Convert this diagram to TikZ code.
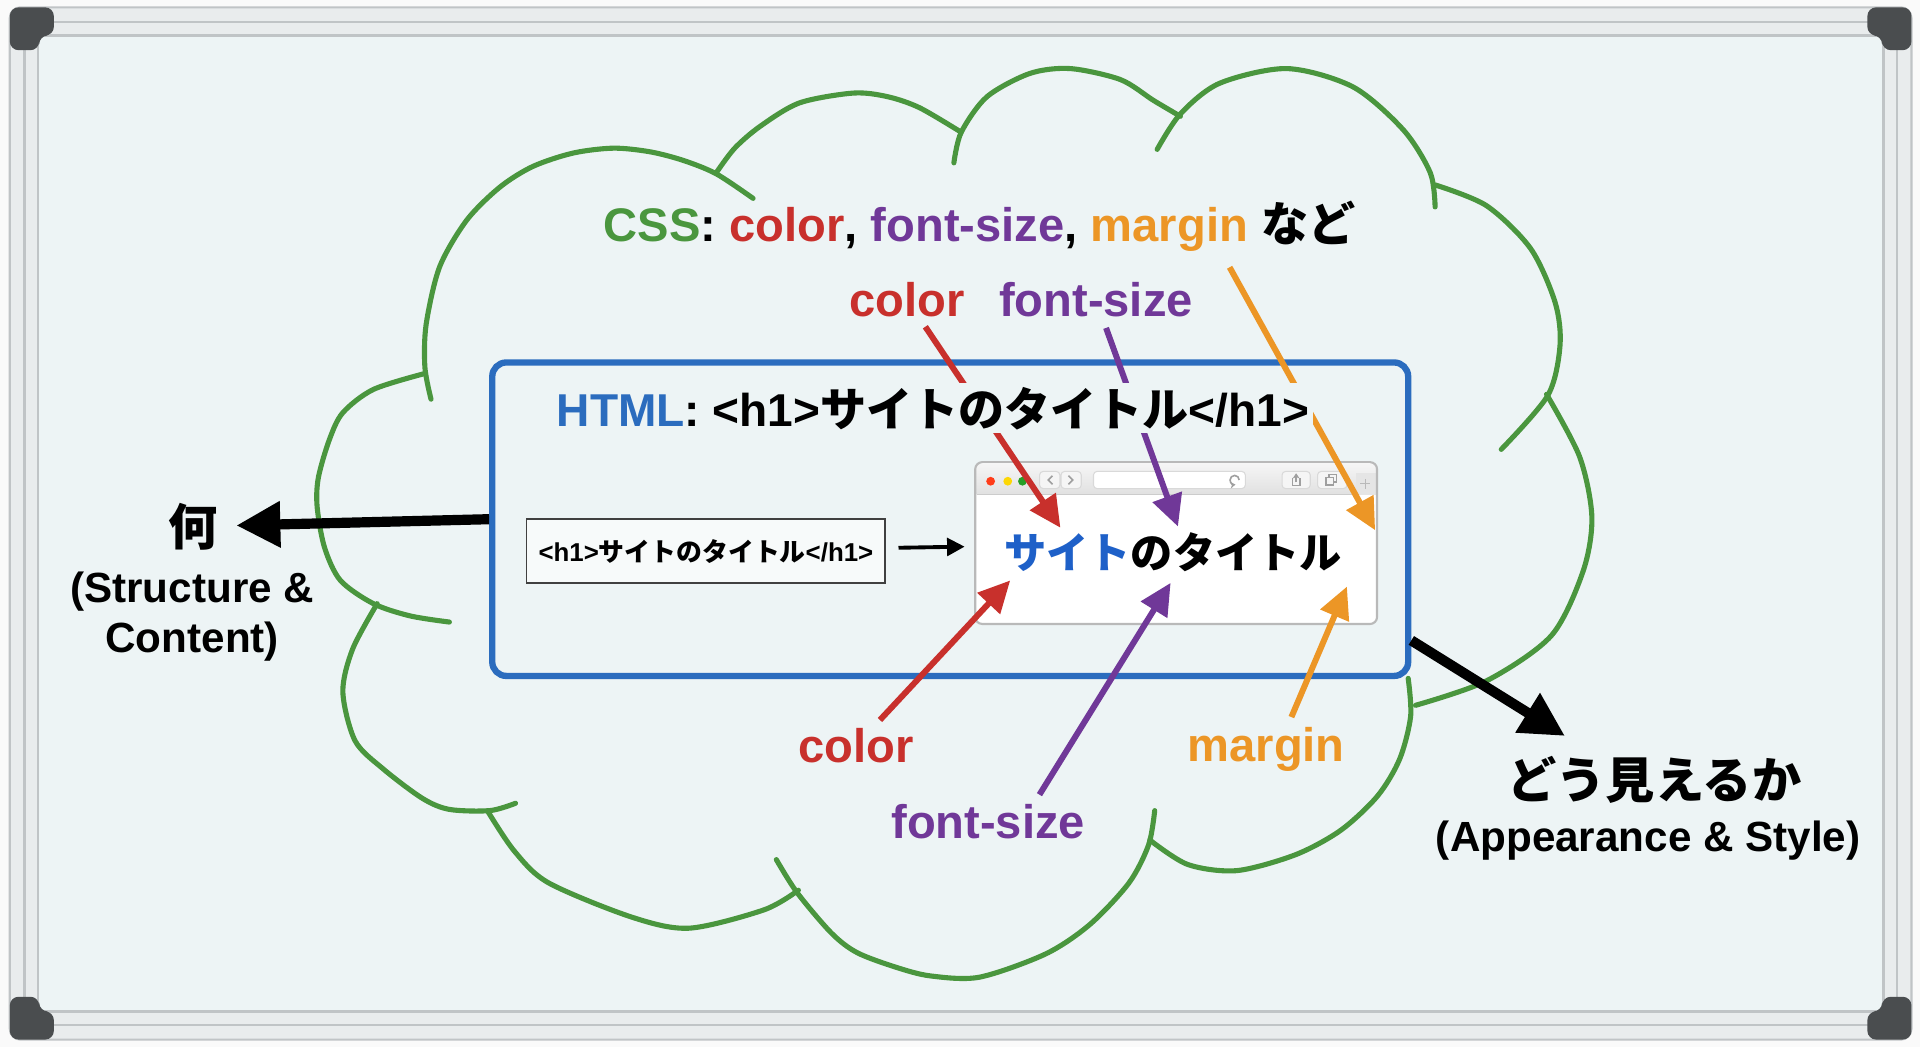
\documentclass[tikz,border=0pt]{standalone}
\usepackage{fontspec}
\setmainfont{Liberation Sans}
\newfontfamily\jp{Noto Sans CJK JP}
\usetikzlibrary{arrows.meta,calc}

\definecolor{board}{RGB}{237,244,245}
\definecolor{rim}{RGB}{233,236,237}
\definecolor{rimline}{RGB}{192,196,198}
\definecolor{capgrey}{RGB}{74,77,79}
\definecolor{cloudgreen}{RGB}{74,150,62}
\definecolor{boxblue}{RGB}{43,108,190}
\definecolor{cssred}{RGB}{200,48,44}
\definecolor{csspurple}{RGB}{112,56,152}
\definecolor{cssorange}{RGB}{236,150,38}
\definecolor{jpblue}{RGB}{30,96,200}

\newlength\spx
\setlength\spx{0.012245cm}

\begin{document}
\begin{tikzpicture}[
        x=0.012245cm, y=-0.012245cm,
        lbl/.style = {inner sep=0pt, font=\fontsize{13.4}{16}\selectfont\bfseries},
        sublbl/.style = {inner sep=0pt, font=\fontsize{12}{14}\selectfont\bfseries},
        jplbl/.style = {inner sep=0pt, font=\fontsize{14}{16}\selectfont\bfseries\jp},
        cloudline/.style = {cloudgreen, line width=1.45pt, line cap=round},
        cssarrow/.style = {line width=1.7pt, -{Triangle[length=9pt,width=8.5pt]}, shorten <=3pt},
        bigarrow/.style = {line width=2.9pt, -{Triangle[length=12.5pt,width=12.5pt]}},
        btn/.style = {fill=gray!8, draw=gray!30, line width=0.3pt, rounded corners=1pt},
        icon/.style = {gray!75, line width=0.45pt}
    ]

    % whiteboard
    \fill[gray!4] (0,0) rectangle (1568,855);
    \useasboundingbox (0,0) rectangle (1568,855);
    \filldraw[fill=rim, draw=rimline, line width=0.6pt, rounded corners=3pt] (8,6) rectangle (1561,849);
    \draw[rimline, line width=0.6pt] (20,18) rectangle (1549,837);
    \filldraw[fill=board, draw=rimline, line width=0.8pt] (31,29) rectangle (1538,826);
    \foreach \cx/\cy/\sx/\sy in {8/6/1/1, 1561/6/-1/1, 8/849/1/-1, 1561/849/-1/-1}
        \fill[capgrey, shift={(\cx,\cy)}, xscale=\sx, yscale=\sy, rounded corners=2.5pt]
            (0,35) -- (0,0) -- (36,0) -- (36,23) -- (24,23) -- (24,35) -- cycle;

    % cloud
    \draw[cloudline] plot[smooth] coordinates {(352,326) (347,300) (348,265) (359,218) (381,180) (408,153) (435,136) (468,125) (501,121) (531,124) (558,131) (585,142) (615,162)};
    \draw[cloudline] plot[smooth] coordinates {(585,141) (600,121) (621,103) (653,84) (697,76) (725,79) (751,88) (785,108)};
    \draw[cloudline] plot[smooth] coordinates {(779,133) (785,108) (806,79) (841,60) (874,56) (915,65) (942,82) (964,95)};
    \draw[cloudline] plot[smooth] coordinates {(945,122) (964,93) (996,68) (1051,56) (1105,71) (1146,106) (1168,141) (1172,169)};
    \draw[cloudline] plot[smooth] coordinates {(1172,151) (1214,168) (1250,203) (1270,247) (1274,282) (1264,323) (1226,367)};
    \draw[cloudline] plot[smooth] coordinates {(1263,322) (1290,373) (1300,422) (1293,466) (1267,519) (1214,556) (1156,576)};
    \draw[cloudline] plot[smooth] coordinates {(1150,554) (1152,585) (1143,620) (1125,650) (1095,678) (1058,698) (1010,711) (970,706) (939,686)};
    \draw[cloudline] plot[smooth] coordinates {(943,662) (938,690) (922,721) (890,755) (854,779) (800,798) (760,797) (732,790) (700,778) (679,762) (651,729) (634,702)};
    \draw[cloudline] plot[smooth] coordinates {(398,662) (420,695) (448,721) (516,749) (563,758) (624,743) (652,727)};
    \draw[cloudline] plot[smooth] coordinates {(308,493) (288,530) (280,565) (290,605) (313,628) (345,652) (367,661) (400,662) (421,656)};
    \draw[cloudline] plot[smooth] coordinates {(347,305) (305,318) (280,337) (269,359) (260,390) (259,414) (265,447) (278,474) (305,493) (335,503) (367,508)};

    % boxes
    \node[draw=boxblue, line width=1.8pt, rounded corners=4pt, minimum width=748*\spx, minimum height=256*\spx] (htmlbox) at (776,424) {};
    \node[draw=black!75, fill=white!55!board, line width=0.5pt, inner sep=0pt, minimum width=293*\spx, minimum height=52*\spx,
          font=\fontsize{7.35}{9}\selectfont\bfseries] (code) at (576.5,450) {<h1>{\jp サイトのタイトル}</h1>};
    \node[fill=white, inner sep=0pt, minimum width=327*\spx, minimum height=131*\spx, rounded corners=2pt] (browser) at (960.5,443.5) {};

    % browser toolbar
    \shade[top color=gray!8, bottom color=gray!24] (797.5,379) rectangle (1123.5,404);
    \draw[gray!40, line width=0.4pt] (797.5,404) -- (1123.5,404);
    \foreach \lx/\lc in {809/red!70!orange!90, 823/yellow!75!orange, 835/green!55!black!85}
        \fill[\lc] (\lx,393) circle (1.25pt);
    \filldraw[btn] (849,385) rectangle (865.5,399) (866.5,385) rectangle (883,399);
    \draw[icon] (859.5,388.5) -- (856,392) -- (859.5,395.5) (872.5,388.5) -- (876,392) -- (872.5,395.5);
    \filldraw[btn, fill=white] (893,385) rectangle (1017,399);
    \draw[icon, -{Stealth[length=1.5pt,width=1.8pt]}] (1012,392) arc[start angle=0, end angle=280, radius=1.3pt];
    \filldraw[btn] (1047,385) rectangle (1070,399) (1076,385) rectangle (1100,399);
    \draw[icon] (1055.5,390) -- (1055.5,396.5) -- (1061.5,396.5) -- (1061.5,390);
    \draw[icon, -{Stealth[length=1.5pt,width=2pt]}] (1058.5,394) -- (1058.5,386.5);
    \draw[icon] (1083,390) rectangle (1089,396) (1085.5,390) -- (1085.5,387.5) -- (1091.5,387.5) -- (1091.5,393.5) -- (1089,393.5);
    \fill[gray!20] (1107,386) rectangle (1123.5,404);
    \draw[icon, gray!55] (1115,391) -- (1115,399) (1111,395) -- (1119,395);
    \draw[gray!55, line width=0.6pt, rounded corners=2pt] (browser.north west) rectangle (browser.south east);
    \node[inner sep=0pt, font=\fontsize{12}{14}\selectfont\bfseries\jp] (pagetitle) at (958,451) {\textcolor{jpblue}{サイト}のタイトル};

    % labels
    \node[lbl, anchor=base] (css) at (800,197) {\textcolor{cloudgreen}{CSS}: \textcolor{cssred}{color}, \textcolor{csspurple}{font-size}, \textcolor{cssorange}{margin} {\jp など}};
    \node[lbl, text=cssred] (colTop) at (741,245) {color};
    \node[lbl, text=csspurple] (fsTop) at (895,245) {font-size};
    \node[lbl, text=cssred] (colBot) at (699,609) {color};
    \node[lbl, text=csspurple] (fsBot) at (807,671) {font-size};
    \node[lbl, text=cssorange, anchor=base] (mgBot) at (1034,622) {margin};
    \node[jplbl] (nani) at (158,430) {何};
    \node[sublbl, anchor=base] (structure) at (157,492) {(Structure \&};
    \node[sublbl, anchor=base] (content) at (157,533) {Content)};
    \node[jplbl] (dou) at (1351,637) {どう見えるか};
    \node[sublbl, anchor=base] (appearance) at (1346,695) {(Appearance \& Style)};

    % arrow tips
    \coordinate (redUp) at (866,431);
    \coordinate (purUp) at (962,430);
    \coordinate (oraUp) at (1123,433);
    \coordinate (redDn) at (825,474);
    \coordinate (purDn) at (956,476);
    \coordinate (oraDn) at (1100,479);
    \coordinate (lookTip) at (1278,601);

    \draw[cssarrow, cssred] (colTop) -- (redUp);
    \draw[cssarrow, csspurple] (fsTop) -- (purUp);
    \draw[cssarrow, cssorange] ($(css.south)+(200,5)$) -- (oraUp);
    \draw[cssarrow, cssred] (colBot) -- (redDn);
    \draw[cssarrow, csspurple] ([xshift=13pt]fsBot.north) -- (purDn);
    \draw[cssarrow, cssorange] ([xshift=6pt]mgBot.north) -- (oraDn);

    \node[lbl, font=\fontsize{13.1}{16}\selectfont\bfseries, fill=board, inner sep=1pt, anchor=base] (htmltitle) at (762,348)
        {\textcolor{boxblue}{HTML}: <h1>{\jp サイトのタイトル}</h1>};

    \draw[line width=1.1pt, -{Triangle[length=5pt,width=5pt]}, shorten <=3.5pt, shorten >=3pt] (code) -- (browser);
    \draw[bigarrow, shorten >=5pt] (htmlbox.west) -- (nani);
    \draw[bigarrow] ([yshift=11pt]htmlbox.south east) -- (lookTip);

\end{tikzpicture}
\end{document}
